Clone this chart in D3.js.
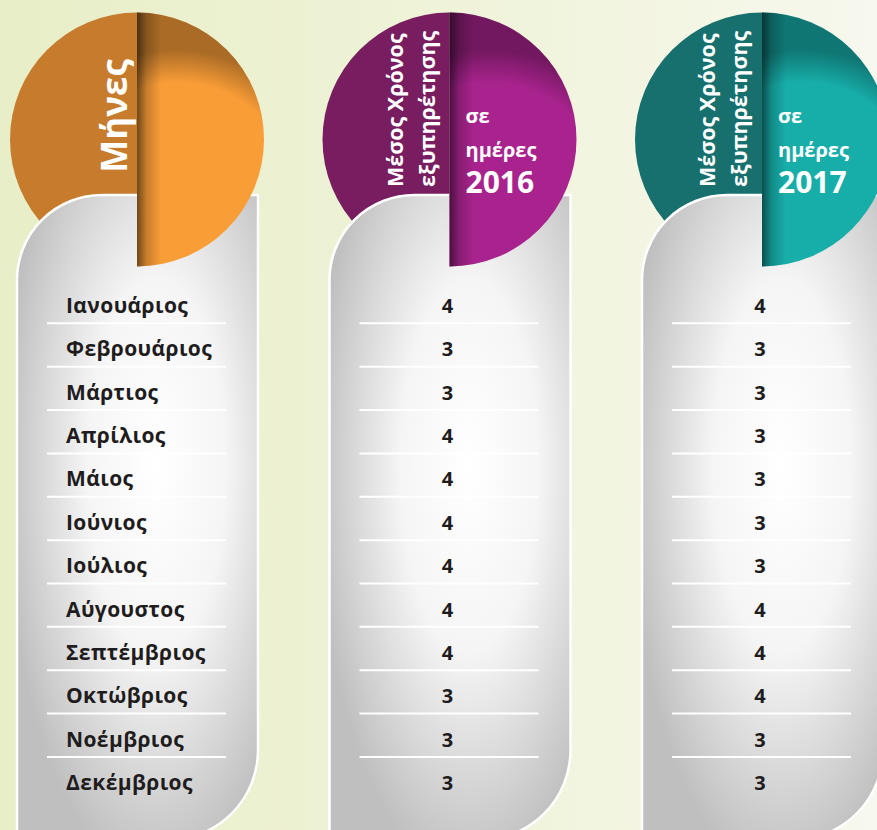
<!DOCTYPE html>
<html>
<head>
<meta charset="utf-8">
<script src="https://cdn.jsdelivr.net/npm/d3@7"></script>
<style>
  body { margin: 0; overflow: hidden; }
  svg { display: block; }
  text { font-family: "Open Sans", sans-serif; font-weight: 700; }
</style>
</head>
<body>
<script>
// data
const months = ["Ιανουάριος","Φεβρουάριος","Μάρτιος","Απρίλιος","Μάιος","Ιούνιος",
                "Ιούλιος","Αύγουστος","Σεπτέμβριος","Οκτώβριος","Νοέμβριος","Δεκέμβριος"];
const days2016 = [4,3,3,4,4,4,4,4,4,3,3,3];
const days2017 = [4,3,3,3,3,3,3,4,4,4,3,3];
const columns = ["months","2016","2017"];

// colours per column: [dark half, light half]
const palette = [["#c67c2c","#f99d37"],["#781d5f","#a8238d"],["#18706e","#17aeaa"]];

const W = 877, H = 830;
const svg = d3.select("body").append("svg").attr("width", W).attr("height", H);
const defs = svg.append("defs");

const x = d3.scalePoint().domain(columns).range([137, 762]);
const y = d3.scaleBand().domain(months).range([280, 800.3]);

// background
const bg = defs.append("linearGradient").attr("id","bg").attr("x1",0).attr("x2",1).attr("y1",0).attr("y2",0);
bg.append("stop").attr("offset",0).attr("stop-color","#e8eec7");
bg.append("stop").attr("offset",0.6).attr("stop-color","#f1f4dc");
bg.append("stop").attr("offset",1).attr("stop-color","#f7f8ee");
svg.append("rect").attr("width",W).attr("height",H).attr("fill","url(#bg)");

// card gradient
const cg = defs.append("radialGradient").attr("id","card")
  .attr("cx",0.58).attr("cy",0.42).attr("r",0.64);
cg.append("stop").attr("offset",0).attr("stop-color","#ffffff");
cg.append("stop").attr("offset",0.45).attr("stop-color","#f5f5f5");
cg.append("stop").attr("offset",1).attr("stop-color","#bfbfbf");

const cy = 139.5, R = 127;
const arc = d3.arc().innerRadius(0).outerRadius(R);
const leftHalf = arc({startAngle: Math.PI, endAngle: 2 * Math.PI});
const rightHalf = arc({startAngle: 0, endAngle: Math.PI});

const cols = svg.selectAll("g.col").data(columns).join("g")
  .attr("class","col")
  .attr("transform", d => `translate(${x(d)},0)`);

// left (dark) half, behind the card
cols.append("path")
  .attr("transform", `translate(0,${cy})`)
  .attr("d", leftHalf)
  .attr("fill", (d,i) => palette[i][0]);

// card
function cardPath() {
  const L = -120, Rt = 121, T = 195, B = 840, r1 = 85, r2 = 90;
  return `M${L},${B} L${L},${T + r1} A${r1},${r1} 0 0 1 ${L + r1},${T} L${Rt},${T} ` +
         `L${Rt},${B - r2} A${r2},${r2} 0 0 1 ${Rt - r2},${B} Z`;
}
cols.append("path")
  .attr("d", cardPath())
  .attr("fill","url(#card)")
  .attr("stroke","#ffffff")
  .attr("stroke-width",2.5);

// right (light) half, in front of the card
const sideShade = defs.append("linearGradient").attr("id","sideShade")
  .attr("gradientUnits","userSpaceOnUse").attr("x1",0).attr("x2",24).attr("y1",0).attr("y2",0);
sideShade.append("stop").attr("offset",0).attr("stop-color","#000").attr("stop-opacity",0.55);
sideShade.append("stop").attr("offset",0.4).attr("stop-color","#000").attr("stop-opacity",0.2);
sideShade.append("stop").attr("offset",1).attr("stop-color","#000").attr("stop-opacity",0);

const rimShade = defs.append("radialGradient").attr("id","rimShade")
  .attr("gradientUnits","userSpaceOnUse").attr("cx",40).attr("cy",60).attr("r",150);
rimShade.append("stop").attr("offset",0.78).attr("stop-color","#000").attr("stop-opacity",0);
rimShade.append("stop").attr("offset",1).attr("stop-color","#000").attr("stop-opacity",0.32);

const rh = cols.append("g").attr("transform", `translate(0,${cy})`);
rh.append("path").attr("d", rightHalf).attr("fill", (d,i) => palette[i][1]);
rh.append("path").attr("d", rightHalf).attr("fill", "url(#rimShade)");
rh.append("path").attr("d", rightHalf).attr("fill", "url(#sideShade)");

// row separators
cols.selectAll("line.sep").data(months.slice(0, -1)).join("line")
  .attr("class","sep")
  .attr("x1",-90).attr("x2",89)
  .attr("y1", d => y(d) + y.bandwidth())
  .attr("y2", d => y(d) + y.bandwidth())
  .attr("stroke","#ffffff").attr("stroke-width",2);

// month labels
const monthCol = cols.filter(d => d === "months");
monthCol.selectAll("text.m").data(months).join("text")
  .attr("class","m")
  .attr("x",-71)
  .attr("y", d => y(d) + 33)
  .attr("font-size",21)
  .attr("letter-spacing",0.4)
  .attr("fill","#1f1c1d")
  .text(d => d);

// values
const values = {"2016": days2016, "2017": days2017};
cols.filter(d => d !== "months").each(function(col) {
  d3.select(this).selectAll("text.v").data(values[col]).join("text")
    .attr("class","v")
    .attr("x",-2)
    .attr("y", (d,i) => y(months[i]) + 33)
    .attr("text-anchor","middle")
    .attr("font-size",20)
    .attr("fill","#1f1c1d")
    .text(d => d);
});

// headers
monthCol.append("text")
  .attr("transform","translate(-10,116) rotate(-90)")
  .attr("text-anchor","middle")
  .attr("font-size",35)
  .attr("fill","#fff")
  .text("Μήνες");

const yearCols = cols.filter(d => d !== "months");
yearCols.append("text")
  .attr("transform","translate(-47,187) rotate(-90)")
  .attr("font-size",21.5)
  .attr("fill","#fff")
  .text("Μέσος Χρόνος");
yearCols.append("text")
  .attr("transform","translate(-15,187) rotate(-90)")
  .attr("font-size",21.5)
  .attr("fill","#fff")
  .text("εξυπηρέτησης");
yearCols.append("text").attr("x",16).attr("y",123)
  .attr("font-size",20).attr("fill","#fff").text("σε");
yearCols.append("text").attr("x",16).attr("y",157)
  .attr("font-size",20).attr("fill","#fff").text("ημέρες");
yearCols.append("text").attr("x",16).attr("y",193)
  .attr("font-size",30).attr("fill","#fff").text(d => d);
</script>
</body>
</html>
